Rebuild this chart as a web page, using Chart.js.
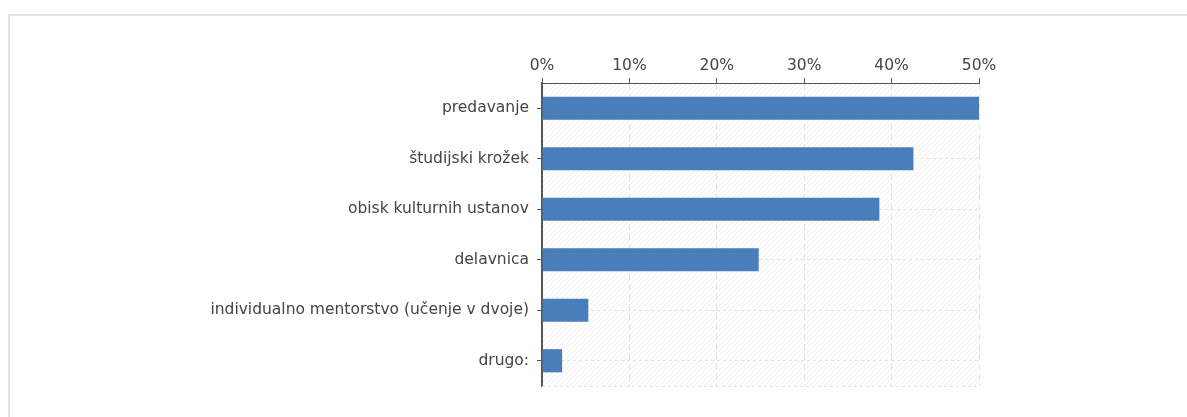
<!DOCTYPE html>
<html>
<head>
<meta charset="utf-8">
<script src="https://cdn.jsdelivr.net/npm/chart.js@4.4.0/dist/chart.umd.min.js"></script>
<style>
  html, body { margin: 0; padding: 0; background: #fff; overflow: hidden; }
  #frame { position: absolute; left: 8px; top: 14px; width: 1190px; height: 420px; border: 2px solid #e4e4e4; box-sizing: border-box; }
  #wrap { position: absolute; left: 0; top: 0; width: 1187px; height: 417px; }
</style>
</head>
<body>
<div id="frame"></div>
<div id="wrap"><canvas id="c" width="1187" height="417"></canvas></div>
<script>
const categories = [
  'predavanje',
  'študijski krožek',
  'obisk kulturnih ustanov',
  'delavnica',
  'individualno mentorstvo (učenje v dvoje)',
  'drugo:'
];
const values = [50, 42.5, 38.6, 24.8, 5.3, 2.3];
const xTickValues = [0, 10, 20, 30, 40, 50];

function makeHatch() {
  const p = document.createElement('canvas');
  p.width = 5; p.height = 5;
  const g = p.getContext('2d');
  g.fillStyle = '#ffffff';
  g.fillRect(0, 0, 5, 5);
  g.strokeStyle = '#eeeeee';
  g.lineWidth = 1;
  g.beginPath();
  g.moveTo(-1, 6); g.lineTo(6, -1);
  g.moveTo(-1, 1); g.lineTo(1, -1);
  g.moveTo(4, 6); g.lineTo(6, 4);
  g.stroke();
  return p;
}

const hatchPlugin = {
  id: 'hatch',
  beforeDraw(chart) {
    const { ctx, chartArea: a } = chart;
    ctx.save();
    ctx.fillStyle = ctx.createPattern(makeHatch(), 'repeat');
    ctx.fillRect(a.left, a.top, a.right - a.left, a.bottom - a.top);
    ctx.restore();
  },
  beforeDatasetsDraw(chart) {
    const { ctx, chartArea: a } = chart;
    ctx.save();
    ctx.strokeStyle = '#e2e2e2';
    ctx.lineWidth = 1;
    ctx.setLineDash([3, 3]);
    ctx.beginPath();
    ctx.moveTo(a.left, Math.round(a.bottom) + 0.5);
    ctx.lineTo(a.right, Math.round(a.bottom) + 0.5);
    ctx.stroke();
    ctx.restore();
  }
};

const PAD_LEFT = 10, PAD_TOP = 0;
const AREA_LEFT = 542, AREA_TOP = 83;

new Chart(document.getElementById('c'), {
  type: 'bar',
  data: {
    labels: categories,
    datasets: [{
      data: values,
      backgroundColor: '#4a7ebb',
      borderWidth: 0,
      barPercentage: 0.46,
      categoryPercentage: 1.0
    }]
  },
  options: {
    indexAxis: 'y',
    responsive: false,
    animation: false,
    layout: { padding: { left: PAD_LEFT, top: PAD_TOP, right: 208, bottom: 31 } },
    plugins: { legend: { display: false }, tooltip: { enabled: false } },
    scales: {
      x: {
        position: 'top',
        min: 0,
        max: 50,
        afterBuildTicks(s) { s.ticks = xTickValues.map(v => ({ value: v })); },
        afterFit(s) { s.height = AREA_TOP - PAD_TOP; },
        ticks: {
          callback: v => v + '%',
          color: '#444',
          font: { family: 'DejaVu Sans', size: 15.5 },
          padding: 3,
          maxRotation: 0
        },
        grid: { color: '#e3e3e3', tickColor: '#555', tickLength: 5, lineWidth: 1 },
        border: { color: '#555', width: 1, dash: [6, 4] }
      },
      y: {
        afterFit(s) { s.width = AREA_LEFT - PAD_LEFT; },
        ticks: {
          color: '#444',
          font: { family: 'DejaVu Sans', size: 15.5 },
          padding: 8
        },
        grid: { offset: false, color: '#e3e3e3', tickColor: '#555', tickLength: 5, lineWidth: 1 },
        border: { color: '#555', width: 2, dash: [3, 3] }
      }
    }
  },
  plugins: [hatchPlugin]
});
</script>
</body>
</html>
